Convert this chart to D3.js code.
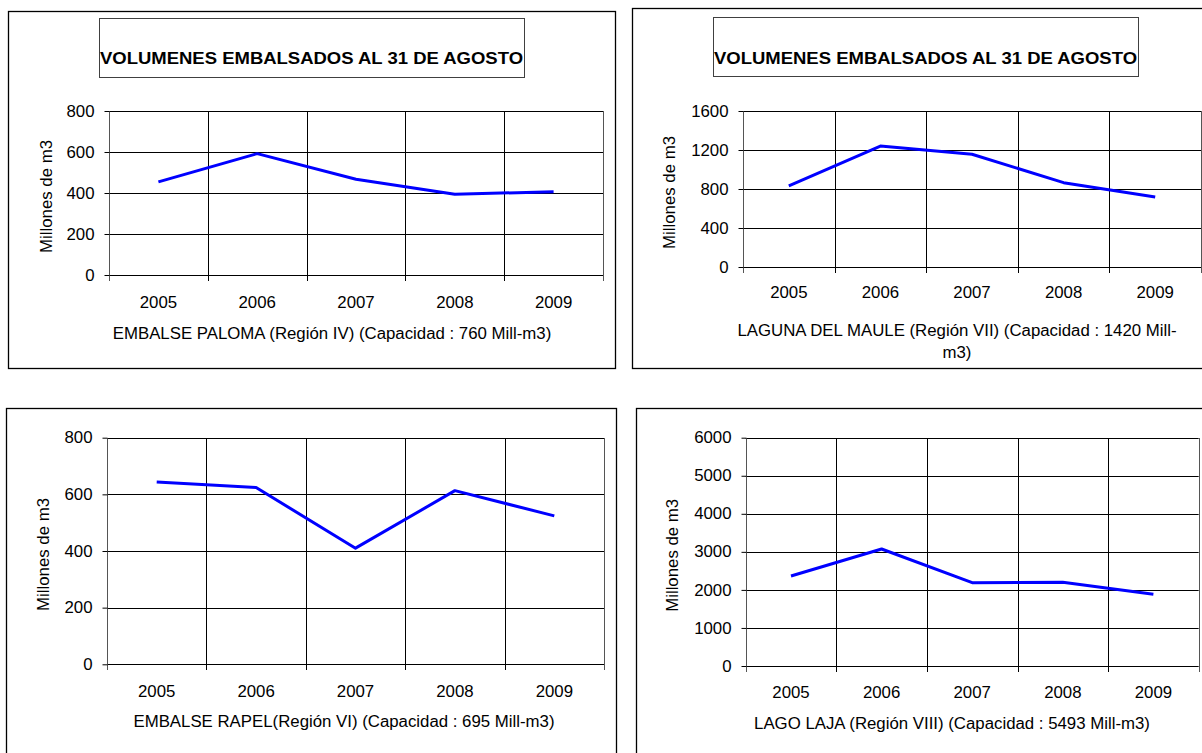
<!DOCTYPE html>
<html><head><meta charset="utf-8">
<script src="https://cdn.jsdelivr.net/npm/d3@7"></script>
<style>html,body{margin:0;padding:0;background:#fff;overflow:hidden}
text{font-family:"Liberation Sans",Arial,sans-serif;fill:#000}</style>
</head><body><svg id="c" width="1202" height="753"></svg>
<script>
// ---- data ----
const years = ["2005", "2006", "2007", "2008", "2009"];
const palomaValues = [454, 592, 467, 394, 406];
const mauleValues = [831, 1241, 1156, 865, 718];
const rapelValues = [644, 624, 410, 613, 524];
const lajaValues = [2365, 3075, 2189, 2200, 1884];
const palomaTicks = [0, 200, 400, 600, 800];
const mauleTicks = [0, 400, 800, 1200, 1600];
const rapelTicks = [0, 200, 400, 600, 800];
const lajaTicks = [0, 1000, 2000, 3000, 4000, 5000, 6000];
const chartTitle = "VOLUMENES EMBALSADOS AL 31 DE AGOSTO";
const yAxisTitle = "Millones de m3";
const palomaSubtitle = ["EMBALSE PALOMA (Región IV) (Capacidad : 760 Mill-m3)"];
const mauleSubtitle = ["LAGUNA DEL MAULE (Región VII) (Capacidad : 1420 Mill-", "m3)"];
const rapelSubtitle = ["EMBALSE RAPEL(Región VI) (Capacidad : 695 Mill-m3)"];
const lajaSubtitle = ["LAGO LAJA (Región VIII) (Capacidad : 5493 Mill-m3)"];

// ---- layout ----
const SX = 1.05; // horizontal stretch of the reference's text
const FS = "16px";
const panels = [
  {values: palomaValues, ticks: palomaTicks, subtitle: palomaSubtitle,
   box: [8, 11, 615, 368], titleBox: [99, 18, 524, 77], titleY: 64,
   plot: [109, 111, 603, 275], yLabelX: 46, xLabelY: 308, subX: 332, subY: [339]},
  {values: mauleValues, ticks: mauleTicks, subtitle: mauleSubtitle,
   box: [632, 8, 1208, 368], titleBox: [713, 17, 1138, 76], titleY: 64,
   plot: [743, 111, 1201, 267], yLabelX: 669, xLabelY: 298, subX: 957, subY: [336, 358]},
  {values: rapelValues, ticks: rapelTicks, subtitle: rapelSubtitle,
   box: [6, 408, 616, 760], titleBox: null,
   plot: [107, 437.7, 604, 664.3], yLabelX: 43, xLabelY: 697, subX: 344, subY: [727]},
  {values: lajaValues, ticks: lajaTicks, subtitle: lajaSubtitle,
   box: [636, 408, 1210, 760], titleBox: null,
   plot: [745.7, 437.7, 1198.7, 666], yLabelX: 672, xLabelY: 698, subX: 952, subY: [729]}
];

const svg = d3.select("#c");

function stretch(sel, f) {
  sel.each(function () {
    const w = this.getComputedTextLength();
    d3.select(this).attr("textLength", w * f).attr("lengthAdjust", "spacingAndGlyphs");
  });
}

panels.forEach(p => {
  const g = svg.append("g");
  const [bx0, by0, bx1, by1] = p.box;
  g.append("rect").attr("x", bx0 + 0.5).attr("y", by0 + 0.5)
    .attr("width", bx1 - bx0).attr("height", by1 - by0)
    .attr("fill", "#fff").attr("stroke", "#000").attr("stroke-width", 1.3);

  if (p.titleBox) {
    const [tx0, ty0, tx1, ty1] = p.titleBox;
    g.append("rect").attr("x", tx0 + 0.5).attr("y", ty0 + 0.5)
      .attr("width", tx1 - tx0).attr("height", ty1 - ty0)
      .attr("fill", "#fff").attr("stroke", "#404040").attr("stroke-width", 1);
    const t = g.append("text").attr("x", (tx0 + tx1) / 2).attr("y", p.titleY)
      .attr("text-anchor", "middle").attr("font-size", "16.5px").attr("font-weight", "bold")
      .text(chartTitle);
    stretch(t, 1.12);
  }

  const [px0, py0, px1, py1] = p.plot;
  const x = d3.scaleBand().domain(years).range([px0, px1]).paddingInner(0).paddingOuter(0);
  const y = d3.scaleLinear().domain([0, d3.max(p.ticks)]).range([py1, py0]);

  // horizontal gridlines
  g.append("g").selectAll("line").data(p.ticks).join("line")
    .attr("x1", px0).attr("x2", px1)
    .attr("y1", d => Math.round(y(d)) + 0.5).attr("y2", d => Math.round(y(d)) + 0.5)
    .attr("stroke", "#000").attr("stroke-width", 1);

  // vertical gridlines (category boundaries) with tick marks below axis
  const bounds = d3.range(years.length + 1).map(i => px0 + i * x.step());
  g.append("g").selectAll("line").data(bounds).join("line")
    .attr("x1", d => Math.round(d) + 0.5).attr("x2", d => Math.round(d) + 0.5)
    .attr("y1", Math.round(py0)).attr("y2", Math.round(y(0)) + 6)
    .attr("stroke", (d, i) => (i === 0 || i === years.length) ? "#555" : "#000")
    .attr("stroke-width", 1);

  // y axis
  const ya = g.append("g").attr("transform", `translate(${Math.round(px0) + 0.5},0)`)
    .call(d3.axisLeft(y).tickValues(p.ticks).tickSize(5).tickPadding(10).tickFormat(d3.format("d")));
  ya.select(".domain").remove();
  ya.selectAll(".tick line").attr("stroke", "#000");
  ya.selectAll("text").attr("font-size", FS).attr("font-family", null);
  stretch(ya.selectAll("text"), SX);

  // x axis labels
  const xa = g.append("g").attr("transform", `translate(0,${p.xLabelY})`)
    .call(d3.axisBottom(x).tickSize(0).tickPadding(0));
  xa.select(".domain").remove();
  xa.selectAll("text").attr("font-size", FS).attr("font-family", null).attr("dy", null).attr("y", 0);
  stretch(xa.selectAll("text"), SX);

  // y axis title
  const yl = g.append("text")
    .attr("transform", `translate(${p.yLabelX},${(py0 + py1) / 2 + 3.5}) rotate(-90)`)
    .attr("text-anchor", "middle").attr("dy", "0.36em").attr("font-size", FS)
    .text(yAxisTitle);
  stretch(yl, SX);

  // subtitle
  p.subtitle.forEach((s, i) => {
    const st = g.append("text").attr("x", p.subX).attr("y", p.subY[i])
      .attr("text-anchor", "middle").attr("font-size", FS).text(s);
    stretch(st, SX);
  });

  // line
  const line = d3.line().x((d, i) => x(years[i]) + x.bandwidth() / 2).y(d => y(d));
  g.append("path").datum(p.values).attr("d", line)
    .attr("fill", "none").attr("stroke", "#0000FF").attr("stroke-width", 3)
    .attr("stroke-linejoin", "round");
});
</script></body></html>
